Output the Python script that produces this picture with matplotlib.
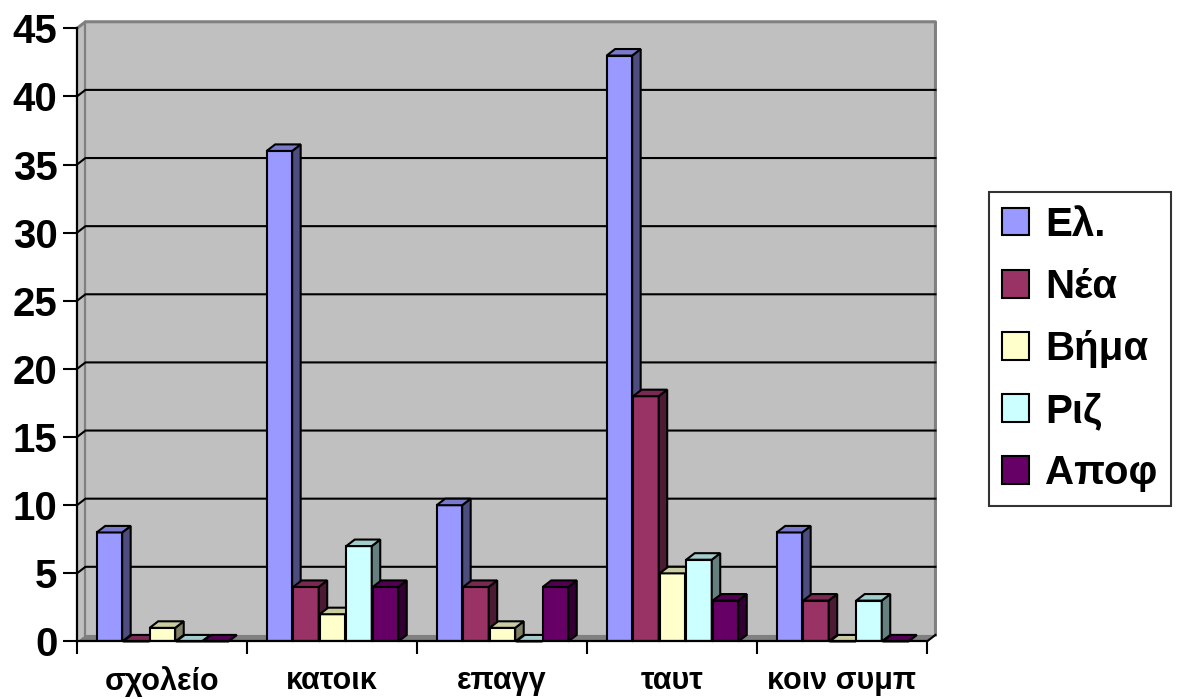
import matplotlib
matplotlib.use("Agg")
import matplotlib.pyplot as plt
from matplotlib.patches import Polygon, Patch
from matplotlib.colors import to_rgb

plt.rcParams["font.family"] = ["Liberation Sans", "DejaVu Sans"]
plt.rcParams["font.weight"] = "bold"

# ── data ─────────────────────────────────────────────────────────
categories = ["σχολείο", "κατοικ", "επαγγ", "ταυτ", "κοιν συμπ"]
series_names = ["Ελ.", "Νέα", "Βήμα", "Ριζ", "Αποφ"]
el = [8, 36, 10, 43, 8]
nea = [0, 4, 4, 18, 3]
vima = [1, 2, 1, 5, 0]
riz = [0, 7, 0, 6, 3]
apof = [0, 4, 4, 3, 0]
series = [el, nea, vima, riz, apof]
colors = ["#9999FF", "#993366", "#FFFFCC", "#CCFFFF", "#660066"]
yticks = list(range(0, 50, 5))

# ── 3d look parameters (data units) ───────────────────────────────
dx, dy = 0.05, 0.48
bar_w, pitch, offset = 0.15, 0.156, 0.116
ymax = 45
ncat = len(categories)


def shade(c, f):
    r, g, b = to_rgb(c)
    return (r * f, g * f, b * f)


fig = plt.figure(figsize=(11.84, 6.99), dpi=100)
ax = fig.add_axes([0.065, 0.0823, 0.7179, 0.8772])
ax.set_xlim(0, ncat)
ax.set_ylim(0, ymax)

# back wall, side wall, floor
wall = Polygon([(dx, dy), (ncat + dx, dy), (ncat + dx, ymax + dy), (dx, ymax + dy)],
               closed=True, facecolor="#C0C0C0", edgecolor="none", zorder=0, clip_on=False)
side_wall = Polygon([(0, 0), (dx, dy), (dx, ymax + dy), (0, ymax)],
                    closed=True, facecolor="#C0C0C0", edgecolor="none", zorder=0, clip_on=False)
floor = Polygon([(0, 0), (ncat, 0), (ncat + dx, dy), (dx, dy)],
                closed=True, facecolor="#808080", edgecolor="none", zorder=0.5, clip_on=False)
for p in (wall, side_wall, floor):
    ax.add_patch(p)

ax.plot([dx, dx], [dy, ymax + dy], color="#808080", lw=1.6, zorder=0.6, clip_on=False)
ax.plot([0, dx, ncat + dx, ncat + dx], [ymax, ymax + dy, ymax + dy, dy],
        color="#808080", lw=2.2, zorder=0.6, clip_on=False)
ax.plot([ncat, ncat + dx], [0, dy], color="black", lw=1.5, zorder=0.7, clip_on=False)

for k in yticks[1:-1]:
    ax.plot([0, dx, ncat + dx], [k, k + dy, k + dy], color="black", lw=1.5,
            zorder=1, clip_on=False)

# bars: front via ax.bar, side and top faces as polygons
z = 2
for i in range(ncat):
    for j, vals in enumerate(series):
        h = vals[i]
        x0 = i + offset + j * pitch
        c = colors[j]
        ax.bar(x0, h, width=bar_w, align="edge", color=c, edgecolor="black",
               linewidth=1.5, zorder=z)
        ax.add_patch(Polygon([(x0 + bar_w, 0), (x0 + bar_w + dx, dy),
                              (x0 + bar_w + dx, h + dy), (x0 + bar_w, h)],
                             closed=True, facecolor=shade(c, 0.5), edgecolor="black",
                             linewidth=1.5, zorder=z, clip_on=False))
        ax.add_patch(Polygon([(x0, h), (x0 + bar_w, h), (x0 + bar_w + dx, h + dy),
                              (x0 + dx, h + dy)],
                             closed=True, facecolor=shade(c, 0.8), edgecolor="black",
                             linewidth=1.5, zorder=z, clip_on=False))
        z += 0.1

# axes
for s in ("top", "right"):
    ax.spines[s].set_visible(False)
for s in ("left", "bottom"):
    ax.spines[s].set_linewidth(1.6)
    ax.spines[s].set_zorder(10)

ax.set_yticks(yticks)
ax.tick_params(axis="y", length=10, width=1.5, pad=4, labelsize=29)
ax.set_xticks(range(ncat + 1))
ax.set_xticklabels([])
ax.tick_params(axis="x", which="major", length=9, width=1.5)
ax.set_xticks([i + 0.5 for i in range(ncat)], minor=True)
ax.set_xticklabels(categories, minor=True)
ax.tick_params(axis="x", which="minor", length=0, pad=18, labelsize=22)

handles = [Patch(facecolor=c, edgecolor="black", linewidth=1.5) for c in colors]
fig.legend(handles, series_names, loc="center", bbox_to_anchor=(0.912, 0.5007),
           fontsize=29, frameon=True, fancybox=False, edgecolor="black",
           handlelength=0.68, handleheight=0.68, handletextpad=0.4,
           labelspacing=0.6, borderpad=0.33, borderaxespad=0)
fig.legends[0].get_frame().set_linewidth(1.5)

fig.savefig("out.png", dpi=100)
